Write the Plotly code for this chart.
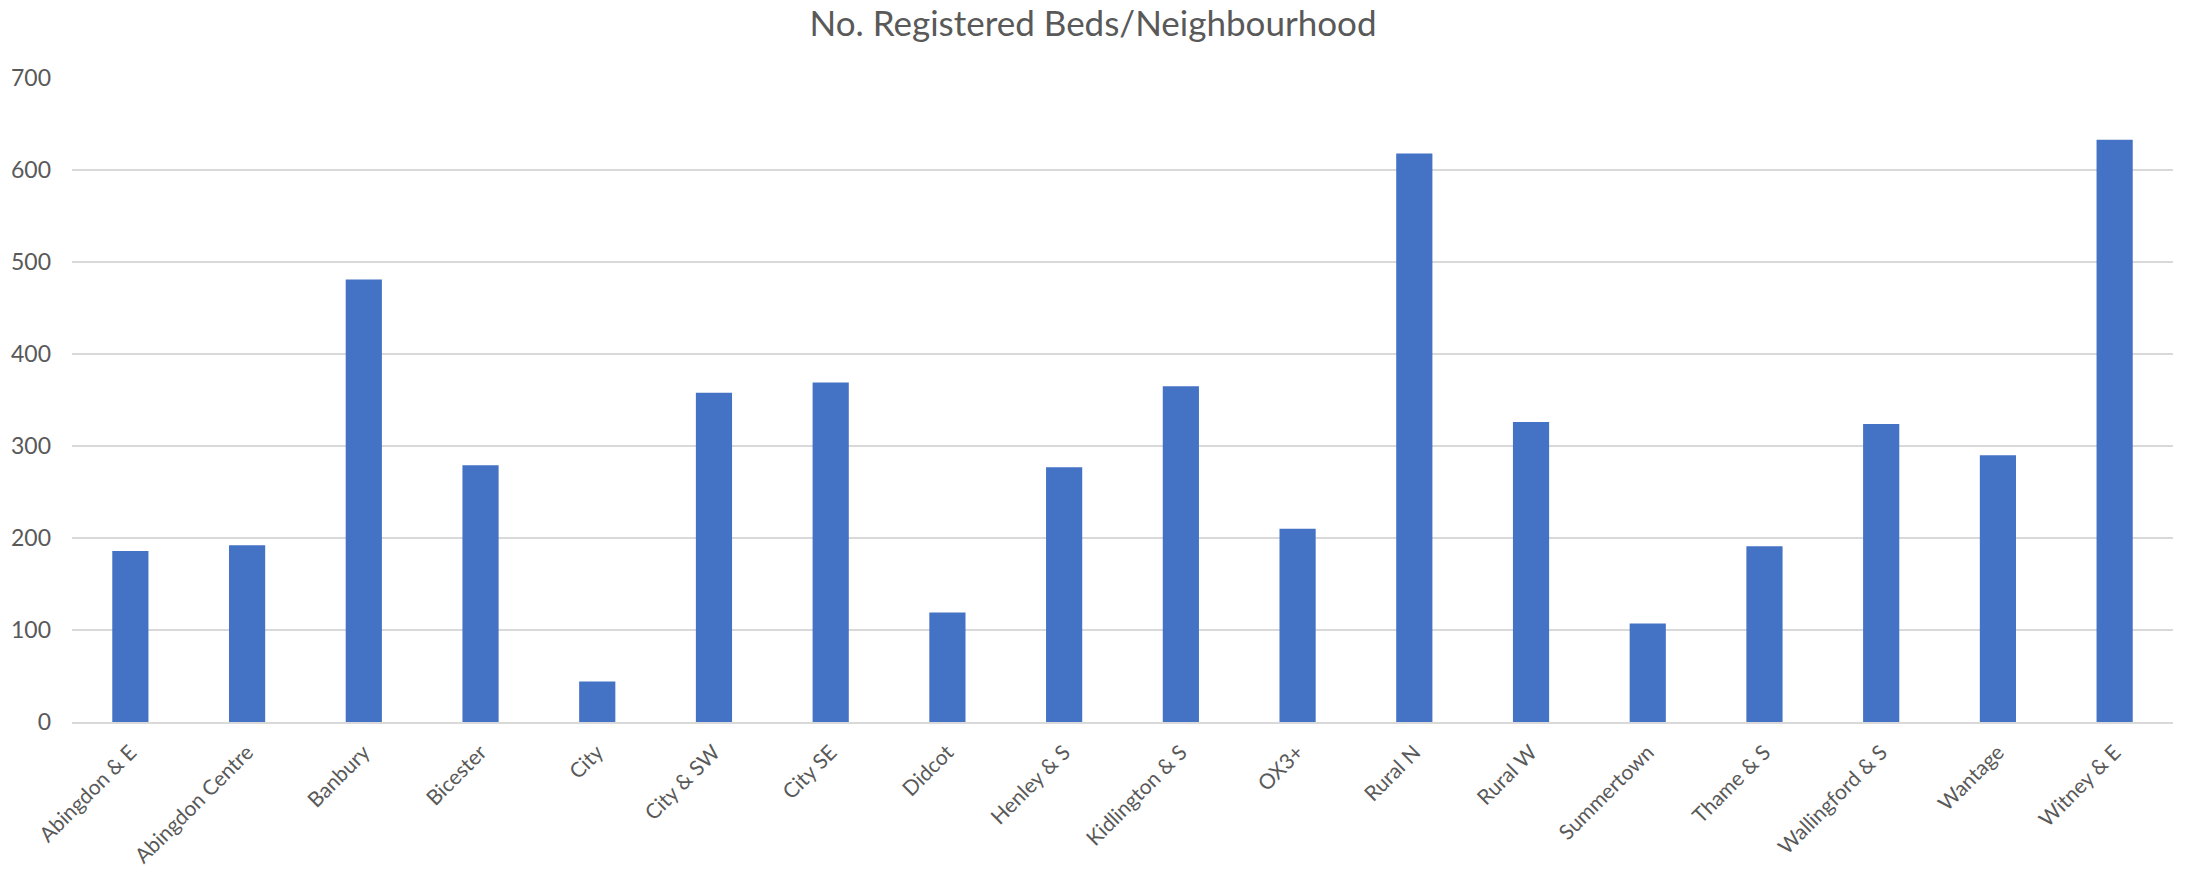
import plotly.graph_objects as go

categories = ["Abingdon & E", "Abingdon Centre", "Banbury", "Bicester", "City", "City & SW",
              "City SE", "Didcot", "Henley & S", "Kidlington & S", "OX3+", "Rural N",
              "Rural W", "Summertown", "Thame & S", "Wallingford & S", "Wantage", "Witney & E"]
beds = [186, 192, 481, 279, 44, 358, 369, 119, 277, 365, 210, 618, 326, 107, 191, 324, 290, 633]
y_ticks = [0, 100, 200, 300, 400, 500, 600, 700]
title_text = "No. Registered Beds/Neighbourhood"

FONT = "Lato, 'Open Sans', sans-serif"
TXT = "#595959"

fig = go.Figure(go.Bar(x=categories, y=beds, marker=dict(color="#4472C4", line=dict(width=0))))

fig.update_layout(
    width=2186, height=872,
    paper_bgcolor="white", plot_bgcolor="white",
    margin=dict(l=72, r=13, t=78, b=150),
    bargap=0.69,
    showlegend=False,
    title=dict(text=title_text, x=0.5, xanchor="center", y=1 - 24 / 872, yanchor="middle",
               font=dict(family=FONT, size=35, color=TXT)),
    font=dict(family=FONT, color=TXT),
)
fig.update_yaxes(range=[0, 700], tickvals=y_ticks, showgrid=True, gridcolor="#D9D9D9", gridwidth=1.5,
                 zeroline=False, showline=False, ticks="", ticklabelstandoff=20, automargin=False,
                 tickfont=dict(family=FONT, size=23, color=TXT))
fig.update_xaxes(tickangle=-45, showline=True, linecolor="#D9D9D9", linewidth=1.5, ticks="",
                 automargin=False,
                 tickfont=dict(family=FONT, size=21, color=TXT), ticklabelstandoff=8)

fig.write_html("out.html", config={"displayModeBar": False},
               post_script="document.body.style.margin='0';document.body.style.overflow='hidden';")
